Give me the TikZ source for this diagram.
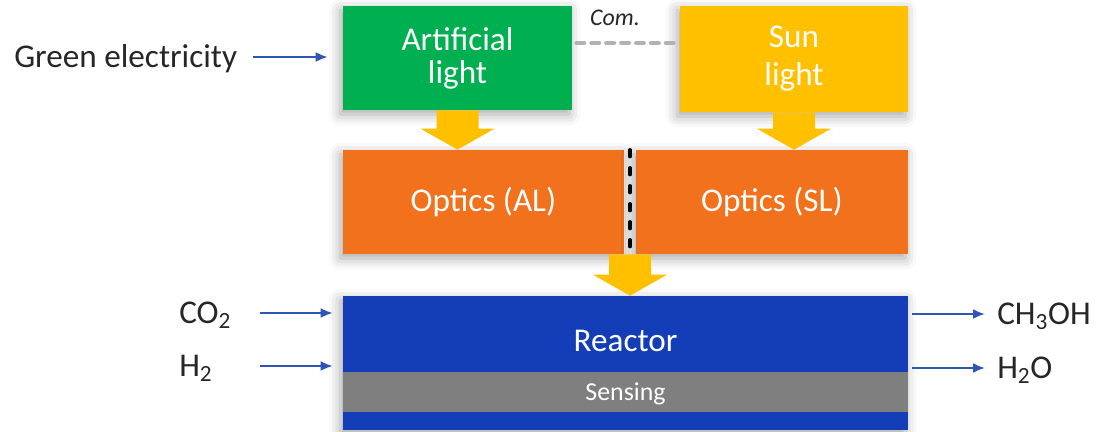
\documentclass[tikz,border=0pt]{standalone}
\usepackage{fontspec}
\setmainfont{Carlito}
\usetikzlibrary{calc}
\usetikzlibrary{arrows.meta}
\usetikzlibrary{shadows.blur}

\definecolor{algreen}{RGB}{0,176,80}
\definecolor{sunyellow}{RGB}{255,192,0}
\definecolor{opticsorange}{RGB}{242,113,28}
\definecolor{reactorblue}{RGB}{20,62,183}
\definecolor{sensegray}{RGB}{127,127,127}
\definecolor{flowblue}{RGB}{46,85,181}
\definecolor{labelgray}{RGB}{38,38,38}

\newcommand{\bigfont}{\fontsize{23.6pt}{23.5pt}\selectfont}
% yellow block arrow, #1 = start, #2 = tip (same x)
\newcommand{\beamarrow}[2]{%
  \fill[beam] ($(#1)+(-21,0)$) -- ($(#2)+(-21,-21)$) -- ($(#2)+(-37,-21)$) -- (#2)
    -- ($(#2)+(37,-21)$) -- ($(#2)+(21,-21)$) -- ($(#1)+(21,0)$) -- cycle;}

\tikzset{
  box/.style={rectangle, inner sep=0pt, text=white, align=center, font=\bigfont,
    blur shadow={shadow xshift=-2pt, shadow yshift=-3pt, shadow blur radius=8pt, shadow opacity=35}},
  txt/.style={inner sep=0pt, text=labelgray, font=\bigfont, text height=15.2pt, text depth=0pt},
  flow/.style={draw=flowblue, line width=1.3pt, -{Latex[length=8.5pt,width=7pt]}},
  beam/.style={fill=sunyellow},
  com/.style={draw=black!30, line width=2.8pt, line cap=round, dash pattern=on 5.7pt off 4.9pt},
  divider/.style={draw=black, line width=2.2pt, line cap=round, dash pattern=on 5pt off 7.8pt},
}

\begin{document}
\begin{tikzpicture}[x=0.025cm, y=-0.025cm]
\useasboundingbox (0,0) rectangle (1101,432);
% light sources
\node[box, fill=algreen, minimum width=5.725cm, minimum height=2.6cm] (AL) at (457.5,58) {Artificial\\light};
\node[box, fill=sunyellow, minimum width=5.7cm, minimum height=2.65cm,
  font=\fontsize{23.6pt}{27pt}\selectfont] (SL) at (794,59) {Sun\\light};
% optics
\node[box, fill=opticsorange, minimum width=7.025cm, minimum height=2.6cm] (OAL) at (483.5,202) {Optics (AL)};
\node[box, fill=opticsorange, minimum width=6.8cm, minimum height=2.6cm] (OSL) at (772,202) {Optics (SL)};
% reactor
\node[box, fill=reactorblue, minimum width=14.125cm, minimum height=3.35cm] (reactor) at (625.5,363) {};
\node[txt, text=white] (reactorlabel) at (625.5,341) {Reactor};
\node[fill=sensegray, text=white, inner sep=0pt, minimum width=14.125cm, minimum height=1cm,
  text height=11.9pt, text depth=0pt, font=\fontsize{18.4pt}{20pt}\selectfont] (sensing) at (625.5,392) {Sensing};

% light paths
\coordinate (tipAL) at (AL.south |- OAL.north);
\coordinate (tipSL) at (SL.south |- OSL.north);
\coordinate (gap) at ($(OAL.south east)!0.5!(OSL.south west)$);
\coordinate (tipR) at (gap |- reactor.north);
\beamarrow{AL.south}{tipAL}
\beamarrow{SL.south}{tipSL}
\beamarrow{gap}{tipR}
\draw[divider] ($(OAL.north east)!0.5!(OSL.north west)$) -- (gap);

% communication
\draw[com] ($(AL.east)+(4,-15)$) -- ($(SL.west |- AL.east)+(-4,-15)$);
\node[inner sep=0pt, text=labelgray, font=\fontsize{17pt}{19pt}\selectfont\itshape] (com) at (615,18) {Com.};

% inputs and outputs
\node[txt, anchor=west] (elec) at (14,57) {Green electricity};
\node[txt, anchor=west] (co2) at (179,313) {CO\textsubscript{2}};
\node[txt, anchor=west] (h2) at (179,366) {H\textsubscript{2}};
\node[txt, anchor=west] (meoh) at (997,314) {CH\textsubscript{3}OH};
\node[txt, anchor=west] (water) at (997,368) {H\textsubscript{2}O};
\draw[flow, shorten <=0.4cm, shorten >=0.375cm] (elec) -- (elec -| AL.west);
\draw[flow, shorten <=0.725cm, shorten >=0.25cm] (co2) -- (co2 -| reactor.west);
\draw[flow, shorten <=1.175cm, shorten >=0.25cm] (h2) -- (h2 -| reactor.west);
\draw[flow, shorten <=0.1cm, shorten >=0.3cm] (meoh -| reactor.east) -- (meoh);
\draw[flow, shorten <=0.1cm, shorten >=0.3cm] (water -| reactor.east) -- (water);
\end{tikzpicture}
\end{document}
